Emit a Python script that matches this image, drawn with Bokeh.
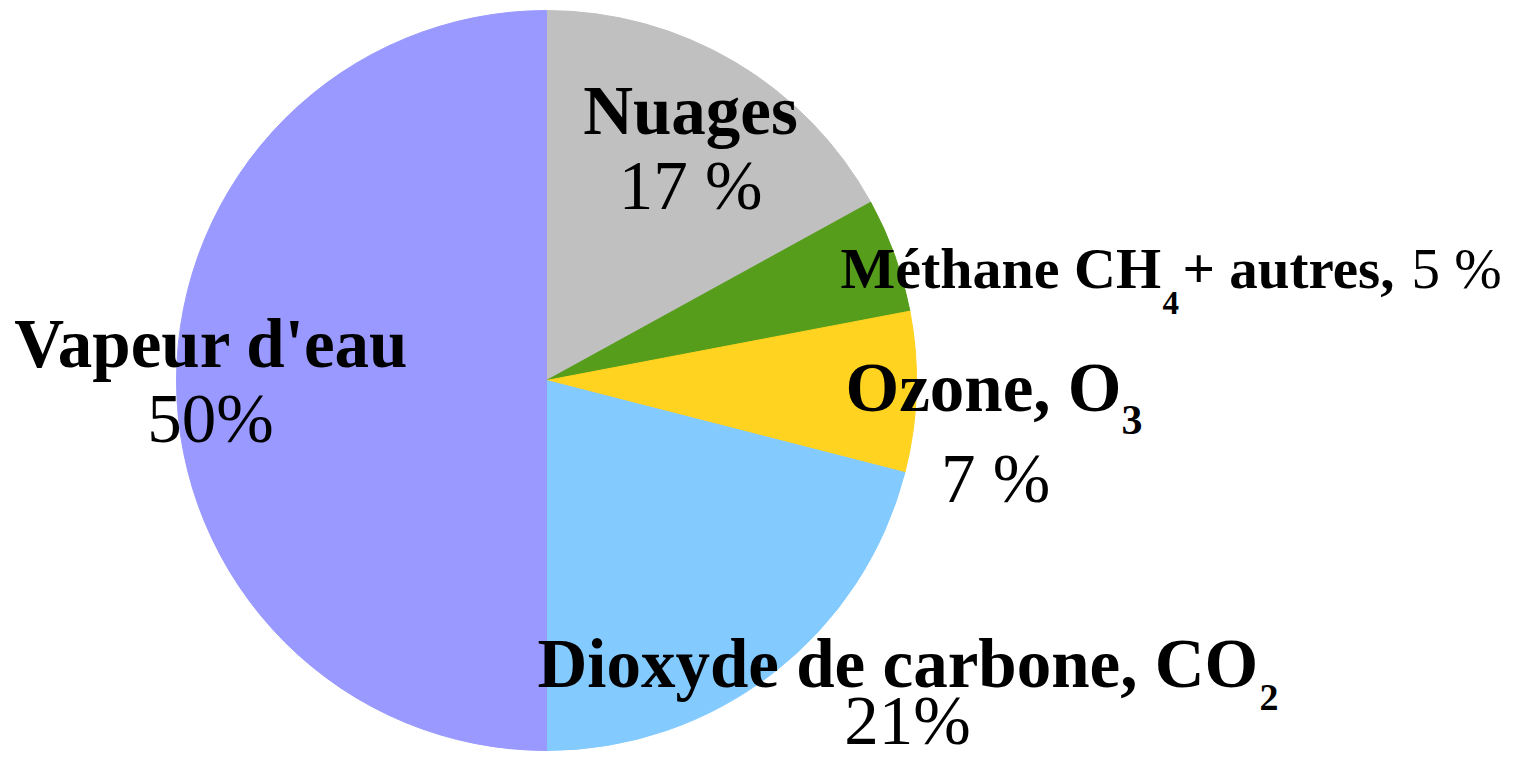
import math
from bokeh.plotting import figure
from bokeh.models import Range1d, ColumnDataSource
from bokeh.core.properties import value
from bokeh.embed import file_html
from bokeh.resources import INLINE

# ---- data ----
names = ["Nuages", "Méthane CH", "Ozone, O", "Dioxyde de carbone, CO", "Vapeur d'eau"]
subscripts = ["", "4", "3", "2", ""]
name_tails = ["", "+ autres,", "", "", ""]
values = [17, 5, 7, 21, 50]
value_texts = ["17 %", "5 %", "7 %", "21%", "50%"]
colors = ["#c0c0c0", "#579d1c", "#ffd320", "#83caff", "#9999ff"]

# ---- layout (screen px) ----
W, H = 1502, 762
CX, CY, R = 546, 380, 370
FONT = "Liberation Serif"

p = figure(width=W, height=H, output_backend="svg", toolbar_location=None,
           x_range=Range1d(0, W), y_range=Range1d(-H, 0),
           min_border=0, outline_line_color=None)
p.axis.visible = False
p.grid.visible = False
p.background_fill_color = "white"
p.border_fill_color = "white"

# wedges: start at 12 o'clock, proceed clockwise
total = float(sum(values))
starts, ends = [], []
a = math.pi / 2
for v in values:
    b = a - v / total * 2 * math.pi
    starts.append(b)
    ends.append(a)
    a = b
src = ColumnDataSource(dict(start=starts, end=ends, color=colors))
p.wedge(x=CX, y=-CY, radius=R, start_angle="start", end_angle="end",
        fill_color="color", line_color="color", line_width=1, source=src)

def txt(s, x, y, size, bold=False, align="left"):
    # y is the wanted baseline; compensate for renderer baseline offset
    yy = y - 0.38 * size
    p.text(x=[x], y=[-yy], text=[s], text_font=value(FONT),
           text_font_size=f"{size}px",
           text_font_style="bold" if bold else "normal",
           text_align=align, text_baseline="alphabetic", text_color="black")

BIG = 69
# Nuages
txt(names[0], 690, 137, BIG, True, "center")
txt(value_texts[0], 690, 212, BIG, False, "center")
# Méthane
txt(names[1], 840, 290, 58, True)
txt(subscripts[1], 1162, 315, 33, True)
txt(name_tails[1], 1182, 290, 57, True)
txt(value_texts[1], 1411, 290, 57, False)
# Ozone
txt(names[2], 845, 414, BIG, True)
txt(subscripts[2], 1121, 435, 42, True)
txt(value_texts[2], 995, 505, BIG, False, "center")
# CO2
txt(names[3], 537, 690, BIG, True)
txt(subscripts[3], 1259, 711, 38, True)
txt(value_texts[3], 907, 747, BIG, False, "center")
# Vapeur
txt(names[4], 211, 370, BIG, True, "center")
txt(value_texts[4], 210, 445, BIG, False, "center")

open("out.html", "w").write(file_html(p, INLINE))
